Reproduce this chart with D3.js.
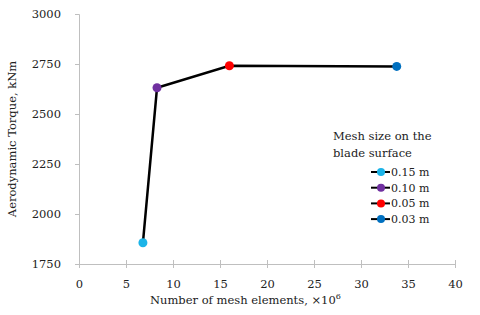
<!DOCTYPE html>
<html>
<head>
<meta charset="utf-8">
<script src="https://cdn.jsdelivr.net/npm/d3@7"></script>
<style>
  body { margin: 0; background: #fff; }
  text { font-family: Georgia, "DejaVu Serif", "Liberation Serif", serif; fill: #222; }
</style>
</head>
<body>
<div id="chart"></div>
<script>
// data
var meshElements = [6.8, 8.3, 16.0, 33.8];   // x10^6
var torque = [1856, 2631, 2741, 2738];       // kNm
var meshSize = ['0.15 m', '0.10 m', '0.05 m', '0.03 m'];
var pointColors = ['#1cb4e8', '#7030a0', '#ff0000', '#0070c0'];
var xTicks = [0, 5, 10, 15, 20, 25, 30, 35, 40];
var yTicks = [1750, 2000, 2250, 2500, 2750, 3000];

var W = 480, H = 315;
var svg = d3.select('#chart').append('svg').attr('width', W).attr('height', H);

var x = d3.scaleLinear().domain([0, 40]).range([79, 455]);
var y = d3.scaleLinear().domain([1750, 3000]).range([264, 14]);

var axisCol = '#bfbfbf';

// y axis
var gy = svg.append('g').attr('transform', 'translate(' + x(0) + ',0)')
  .call(d3.axisLeft(y).tickValues(yTicks).tickSize(4).tickPadding(14).tickFormat(d3.format('d')));
gy.select('.domain').attr('stroke', axisCol);
gy.selectAll('.tick line').attr('stroke', axisCol);
gy.selectAll('.tick text').style('font-size', '11.5px').attr('fill', '#222');

// x axis
var gx = svg.append('g').attr('transform', 'translate(0,' + y(1750) + ')')
  .call(d3.axisBottom(x).tickValues(xTicks).tickSize(4).tickPadding(12));
gx.select('.domain').attr('stroke', axisCol);
gx.selectAll('.tick line').attr('stroke', axisCol).attr('y1', -4);
gx.selectAll('.tick text').style('font-size', '11.5px').attr('fill', '#222');

// axis titles
svg.append('text').attr('x', 150).attr('y', 304).style('font-size', '11.5px')
  .text('Number of mesh elements, \u00d710')
  .append('tspan').attr('dy', -5).style('font-size', '8px').text('6');

svg.append('text').attr('transform', 'translate(16,139) rotate(-90)')
  .attr('text-anchor', 'middle').style('font-size', '11.5px')
  .text('Aerodynamic Torque, kNm');

// line
var pts = meshElements.map(function(d, i) { return [d, torque[i]]; });
svg.append('path').datum(pts)
  .attr('d', d3.line().x(function(d) { return x(d[0]); }).y(function(d) { return y(d[1]); }))
  .attr('fill', 'none').attr('stroke', '#000').attr('stroke-width', 2.5);

svg.selectAll('circle.pt').data(pts).enter().append('circle')
  .attr('class', 'pt')
  .attr('cx', function(d) { return x(d[0]); })
  .attr('cy', function(d) { return y(d[1]); })
  .attr('r', 4.5)
  .attr('fill', function(d, i) { return pointColors[i]; });

// legend
var lg = svg.append('g');
lg.append('text').attr('x', 333).attr('y', 140).style('font-size', '11.5px').text('Mesh size on the');
lg.append('text').attr('x', 333).attr('y', 157).style('font-size', '11.5px').text('blade surface');

var items = lg.selectAll('g.item').data(meshSize).enter().append('g')
  .attr('class', 'item')
  .attr('transform', function(d, i) { return 'translate(0,' + (172 + i * 15.7) + ')'; });
items.append('line').attr('x1', 371).attr('x2', 390).attr('y1', 0).attr('y2', 0)
  .attr('stroke', '#000').attr('stroke-width', 2);
items.append('circle').attr('cx', 381).attr('cy', 0).attr('r', 4)
  .attr('fill', function(d, i) { return pointColors[i]; });
items.append('text').attr('x', 391).attr('y', 4).style('font-size', '11px').text(function(d) { return d; });
</script>
</body>
</html>
